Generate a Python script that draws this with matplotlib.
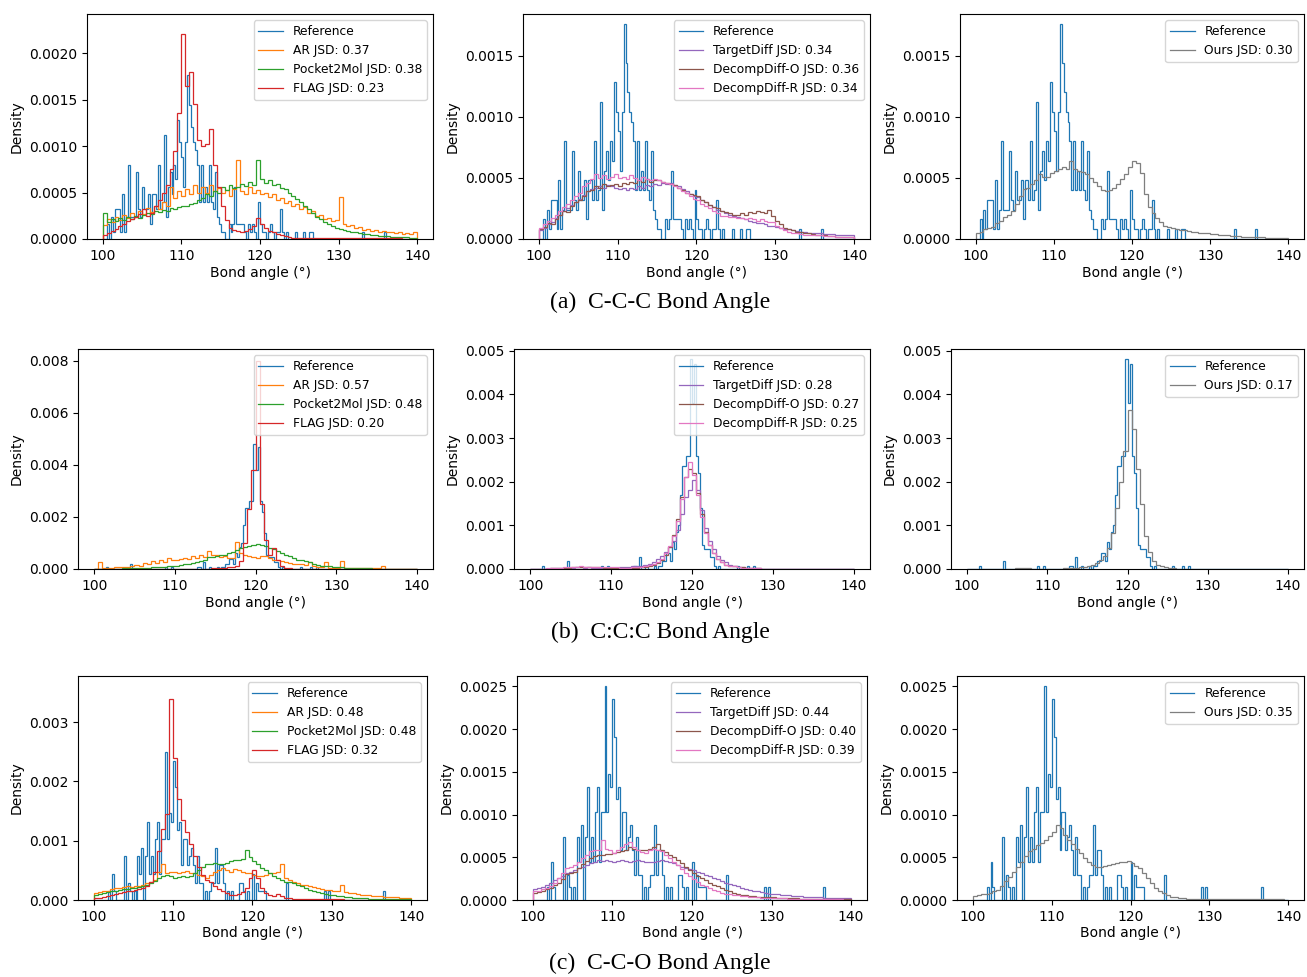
import numpy as np
import matplotlib
matplotlib.use('Agg')
import matplotlib.pyplot as plt
from matplotlib.ticker import FormatStrFormatter

W, H = 1307, 977
fig = plt.figure(figsize=(W/100, H/100), dpi=100)

# bin edges (deg): reference histograms are coarser-sampled, generated ones finer
ang_ref = np.linspace(100, 140, 161)   # 0.25 deg bins
ang_gen = np.linspace(100, 140, 81)    # 0.5 deg bins

# ---------------- reference histograms (counts x unit) ----------------
ref_a_unit = 0.8e-4
ref_a = [0,0,2,0,3,1,4,4,4,1,6,1,3,10,3,3,3,9,4,3,
         7,4,4,6,2,6,6,4,10,4,5,14,3,7,9,6,10,8,16,13,
         11,7,13,22,18,15,13,12,10,5,10,5,7,5,10,5,4,9,3,2,
         1,1,0,0,2,1,2,7,2,2,2,2,1,0,2,1,2,1,0,5,
         2,1,1,0,1,2,1,0,1,1,4,1,0,1,0,0,0,0,1,0,
         0,0,1,0,0,1,1,0,0,0,0,0,0,0,0,0,0,0,0,0,
         0,0,0,0,0,0,0,0,0,0,0,0,1,0,0,0,0,0,0,0,
         0,0,0,1,0,0,0,0,0,0,0,0,0,0,0,0,0,0,0,0]
ref_b_unit = 1e-4
ref_b = [0,0,0,0,0,0,0.8,0,0,0,0,0,0,0,0,0,0,0,1.9,0,
         0,0,0,0,0,0,0,0,0,0,0,0,0,0,0,0.8,0,0,0.8,0,
         0,0,0,0,0,0,0,0,0,0,0,0.8,0.8,0,2.7,0,0,0.8,0,0,
         0,0.8,0,0.8,0.8,1.9,1.9,3.7,3.7,1.9,6.3,4.5,8.5,10,17,23.5,23.5,26,26,48,
         38,47,26,22,14,5.5,4.5,4.5,4.5,2.7,2.7,0.8,0,0.8,0,0,0,0,0,0,
         0,0,0.8,0,0,0,0,0.8,0,0,0.8,0,0,0,0,0,0,0,0,0,
         0,0,0,0,0,0,0,0,0,0,0,0,0,0,0,0,0,0,0,0,
         0,0,0,0,0,0,0,0,0,0,0,0,0,0,0,0,0,0,0,0]
ref_c_unit = 1.47e-4
ref_c = [0,0,0,0,0,0,0,1,0,3,1,0,0,0,0,5,0,2,1,0,
         1,0,5,3,6,0,5,9,3,5,3,7,9,3,7,7,17,7,10,9,
         16,13,8,9,4,7,7,4,5,6,4,2,5,2,2,0,1,0,1,2,
         2,6,2,4,4,2,0,1,0,1,0,0,0,2,2,1,0,1,0,0,
         3,0,2,1,1,1,1,0,0,0,0,0,0,0,0,0,0,2,0,0,
         0,0,0,0,0,0,0,0,0,0,0,0,0,0,0,0,1,0,1,0,
         0,0,0,0,0,0,0,0,0,0,0,0,0,0,0,0,0,0,0,0,
         0,0,0,0,0,0,1,0,0,0,0,0,0,0,0,0,0,0,0,0]

# ---------------- generated-molecule histograms (x1e-4 density) ----------------
# (a) C-C-C
a_ar = [1.5,2.2,1.8,2.4,2.0,2.6,2.3,2.8,2.4,3.0,
        2.7,3.3,2.9,3.6,3.2,4.0,3.6,5.6,4.4,5.2,
        4.6,5.4,4.8,5.8,5.0,5.6,4.9,5.8,5.2,5.5,
        5.0,5.3,4.6,5.4,8.5,5.2,4.8,5.6,4.9,5.3,
        4.8,5.0,4.5,4.8,4.2,4.4,3.9,4.1,3.6,3.8,
        3.2,3.4,2.8,3.0,2.5,2.6,2.2,2.3,1.9,2.0,
        4.5,1.6,1.4,1.5,1.2,1.3,1.0,1.1,0.9,1.0,
        0.8,0.9,0.7,0.8,0.6,0.7,0.5,0.6,0.5,0.7]
a_p2m = [2.8,1.8,2.2,1.9,2.3,2.0,2.4,2.2,2.5,2.3,
         2.6,2.8,2.7,3.0,2.9,3.1,3.0,3.3,3.2,3.4,
         3.5,3.6,3.8,3.9,4.2,4.4,4.8,4.6,5.2,5.0,
         5.6,5.3,5.8,5.5,5.6,5.9,5.7,6.1,5.8,8.5,
         6.4,6.0,6.3,5.8,5.9,5.5,5.4,4.9,4.6,4.3,
         4.0,3.6,3.2,2.8,2.4,2.1,1.8,1.6,1.4,1.2,
         1.1,1.0,0.9,0.8,0.7,0.6,0.5,0.5,0.4,0.4,
         0.35,0.3,0.3,0.25,0.25,0.2,0.2,0.2,0.15,0.15]
a_flag = [0.4,0.6,0.9,1.1,1.4,1.6,1.9,2.2,2.4,2.7,
          3.2,2.5,2.8,3.6,4.2,5.0,5.8,7.5,9.5,13.5,
          22.0,16.5,18.0,14.5,10.6,10.0,10.2,11.8,8.0,5.6,
          3.5,2.0,1.2,1.0,0.9,0.8,0.9,1.1,1.4,2.3,
          1.6,1.2,0.9,0.7,0.5,0.4,0.3,0.2,0.15,0.1,
          0.1,0.1,0.1,0.1,0.1,0.1,0.1,0.1,0.1,0.1,
          0.1,0.1,0.1,0.1,0.1,0.1,0.08,0.08,0.08,0.08,
          0.08,0.08,0.06,0.06,0.06,0.06,0.05,0.05,0.05,0.05]
a_td = [0.7,0.9,1.2,1.4,1.7,2.0,2.3,2.5,2.8,3.0,
        3.3,3.6,3.9,4.1,4.2,4.3,4.2,4.4,4.3,4.2,
        4.1,4.2,4.0,4.2,4.1,4.3,4.2,4.4,4.3,4.5,
        4.4,4.6,4.5,4.6,4.4,4.3,4.1,3.9,3.7,3.5,
        3.4,3.2,3.0,2.8,2.6,2.4,2.3,2.1,2.0,1.9,
        1.8,1.7,1.6,1.5,1.4,1.3,1.3,1.2,1.1,1.1,
        1.0,0.9,0.85,0.8,0.7,0.65,0.6,0.55,0.5,0.5,
        0.45,0.45,0.4,0.4,0.4,0.35,0.35,0.35,0.3,0.3]
a_ddo = [0.8,1.0,1.3,1.2,1.6,2.0,2.3,2.2,2.7,3.0,
         3.2,3.5,3.9,4.0,4.3,4.2,4.5,4.3,4.4,4.5,
         4.3,4.6,4.5,4.7,4.6,4.8,4.7,4.9,4.7,4.8,
         4.8,4.7,4.6,4.5,4.4,4.2,4.0,3.8,3.7,3.6,
         3.5,3.2,3.0,2.8,2.6,2.5,2.3,2.2,2.1,2.0,
         2.0,2.1,2.0,2.2,2.1,2.3,2.2,2.1,2.4,1.9,
         1.5,1.2,0.9,0.8,0.7,0.6,0.55,0.5,0.45,0.4,
         0.35,0.3,0.3,0.25,0.25,0.2,0.2,0.2,0.15,0.15]
a_ddr = [0.9,1.2,1.5,1.7,2.0,2.3,2.6,2.9,3.2,3.5,
         3.8,4.3,4.6,4.9,5.3,5.0,5.2,4.9,5.1,5.3,
         5.0,5.1,4.9,5.2,5.0,4.8,5.1,4.9,4.8,4.9,
         4.8,4.7,4.6,4.5,4.3,4.2,3.9,3.8,3.5,3.3,
         3.2,2.9,2.7,2.5,2.3,2.1,1.9,1.9,1.8,1.8,
         1.7,1.7,1.6,1.7,1.6,1.5,1.6,1.5,1.4,1.4,
         1.1,0.9,0.7,0.6,0.5,0.45,0.4,0.35,0.35,0.3,
         0.3,0.3,0.25,0.25,0.25,0.2,0.2,0.2,0.2,0.15]
a_ours = [0.5,0.6,0.8,0.9,1.0,1.3,1.5,1.8,2.0,2.3,
          2.9,3.5,4.1,4.2,4.5,4.8,5.3,5.1,5.1,5.4,
          5.6,5.7,5.9,5.7,6.4,5.7,5.6,5.5,5.3,5.0,
          4.7,4.3,4.0,3.9,4.0,4.2,4.5,4.9,5.3,5.9,
          6.4,6.2,5.4,3.7,2.6,2.1,1.7,1.4,1.1,1.0,
          0.9,0.8,0.75,0.7,0.65,0.6,0.55,0.5,0.45,0.45,
          0.4,0.38,0.35,0.32,0.3,0.28,0.25,0.22,0.2,0.18,
          0.17,0.15,0.15,0.13,0.12,0.1,0.1,0.08,0.08,0.07]

# (b) C:C:C
b_ar = [0.1,2.5,0.3,0.4,0.5,0.6,0.7,0.6,0.8,1.0,
        1.5,1.2,2.3,1.8,3.0,2.4,3.6,2.8,4.2,3.6,
        3.6,4.0,4.2,3.8,4.9,4.4,5.5,4.8,6.8,5.2,
        5.5,4.6,4.9,4.3,4.2,10.5,6.0,5.2,4.9,4.5,
        4.2,5.0,4.9,4.4,3.6,3.4,3.0,2.6,2.3,2.0,
        2.0,1.8,1.7,2.5,1.0,0.9,0.8,2.5,0.5,0.4,
        0.4,3.0,0.3,0.3,0.3,0.25,0.2,0.2,0.2,0.2,
        0.2,1.2,0.15,0.1,0.1,0.1,0.1,0.05,0.05,0.05]
b_p2m = [0.05,0.05,0.1,0.1,0.1,0.15,0.15,0.2,0.2,0.25,
         0.3,0.35,0.4,0.5,0.6,0.7,0.8,0.9,1.0,1.2,
         1.3,1.5,1.8,2.1,2.4,2.7,3.0,3.6,4.5,4.8,
         5.0,5.3,5.5,6.0,6.5,7.2,8.0,8.5,9.0,9.3,
         9.5,9.3,9.0,8.2,7.5,6.8,6.0,5.5,5.0,4.3,
         3.6,3.3,3.0,2.5,2.0,1.6,1.3,1.1,1.0,0.85,
         0.7,0.6,0.5,0.45,0.35,0.3,0.25,0.22,0.2,0.18,
         0.15,0.15,0.12,0.12,0.1,0.1,0.08,0.08,0.06,0.06]
b_flag = [0.0,0.0,0.05,0.05,0.05,0.05,0.05,0.05,0.05,0.05,
          0.05,0.05,0.05,0.05,0.05,0.05,0.05,0.05,0.05,0.05,
          0.05,0.05,0.05,0.05,0.1,0.1,0.1,0.15,0.15,0.2,
          0.2,0.3,0.4,0.6,0.8,1.0,3.0,10.0,23.0,38.0,
          80.0,25.0,11.0,5.5,8.0,3.5,1.0,0.4,0.2,0.1,
          0.1,0.1,0.05,0.05,0.05,0.05,0.05,0.05,0.05,0.05,
          0.05,0.05,0.05,0.05,0.05,0.05,0.05,0.05,0.05,0.05,
          0.05,0.05,0.05,0.05,0.05,0.05,0.05,0.05,0.05,0.05]
b_td = [0.05,0.05,0.05,0.1,0.1,0.15,0.2,0.2,0.25,0.3,
        0.3,0.35,0.35,0.3,0.35,0.3,0.3,0.3,0.3,0.3,
        0.3,0.3,0.35,0.4,0.5,0.6,0.7,0.8,0.9,1.2,
        1.6,2.2,3.0,3.8,5.0,6.5,9.0,12.5,16.5,18.0,
        20.5,18.0,13.5,9.5,6.5,4.5,3.0,2.0,1.6,1.0,
        0.7,0.5,0.35,0.3,0.2,0.15,0.15,0.1,0.1,0.1,
        0.08,0.08,0.06,0.06,0.05,0.05,0.05,0.05,0.05,0.05,
        0.05,0.05,0.05,0.05,0.05,0.05,0.05,0.05,0.05,0.05]
b_ddo = [0.05,0.05,0.05,0.1,0.1,0.15,0.2,0.25,0.3,0.3,
         0.35,0.4,0.4,0.4,0.4,0.35,0.35,0.35,0.3,0.3,
         0.3,0.3,0.3,0.3,0.3,0.3,0.3,0.35,0.4,0.6,
         0.9,1.3,2.0,3.2,5.0,7.8,11.5,16.5,21.0,23.0,
         22.0,17.5,12.5,8.5,5.6,3.7,2.4,1.6,1.0,0.7,
         0.6,0.45,0.35,0.25,0.2,0.15,0.12,0.1,0.1,0.08,
         0.08,0.06,0.06,0.05,0.05,0.05,0.05,0.05,0.05,0.05,
         0.05,0.05,0.05,0.05,0.05,0.05,0.05,0.05,0.05,0.05]
b_ddr = [0.05,0.05,0.1,0.1,0.15,0.2,0.25,0.3,0.35,0.4,
         0.5,0.55,0.6,0.55,0.5,0.5,0.45,0.45,0.4,0.4,
         0.35,0.35,0.3,0.3,0.3,0.35,0.4,0.5,0.6,0.9,
         1.1,1.6,2.4,3.6,5.2,7.5,11.0,16.0,21.0,24.5,
         21.5,17.0,12.0,8.2,5.5,3.6,2.4,1.6,1.0,0.7,
         0.6,0.4,0.3,0.25,0.2,0.15,0.12,0.1,0.1,0.08,
         0.08,0.06,0.06,0.05,0.05,0.05,0.05,0.05,0.05,0.05,
         0.05,0.05,0.05,0.05,0.05,0.05,0.05,0.05,0.05,0.05]
b_ours = [0.0,0.0,0.0,0.0,0.0,0.0,0.0,0.0,0.0,0.05,
          0.05,0.1,0.2,0.2,0.15,0.15,0.1,0.1,0.1,0.1,
          0.1,0.1,0.1,0.1,0.15,0.15,0.2,0.3,0.4,0.5,
          0.6,0.9,1.3,2.0,3.0,4.8,8.2,14.0,20.0,27.0,
          36.5,32.0,23.0,15.0,7.5,4.0,1.8,1.0,0.6,0.35,
          0.2,0.15,0.1,0.08,0.06,0.05,0.05,0.04,0.04,0.03,
          0.03,0.03,0.03,0.03,0.03,0.03,0.03,0.03,0.03,0.03,
          0.03,0.03,0.03,0.03,0.03,0.03,0.03,0.03,0.03,0.03]

# (c) C-C-O
c_ar = [1.2,1.4,1.5,1.6,1.9,2.0,2.1,2.2,2.3,2.2,
        2.4,2.3,2.6,2.8,3.1,3.4,4.8,6.0,4.5,4.7,
        4.8,4.6,4.8,4.9,4.5,4.6,4.3,4.0,3.7,4.2,
        4.8,5.0,5.4,5.0,4.8,5.2,5.1,4.7,4.5,4.6,
        4.3,4.1,4.0,4.3,4.5,4.6,4.8,6.0,3.7,3.4,
        3.1,2.9,2.6,2.5,2.3,2.2,2.0,1.9,1.7,1.7,
        1.6,1.5,2.6,1.4,1.2,1.1,1.0,0.9,0.8,0.8,
        0.7,0.65,0.6,0.55,0.5,0.5,0.45,0.4,0.35,0.35]
c_p2m = [0.9,1.0,1.2,1.3,1.5,1.6,1.7,1.8,1.9,2.0,
         2.1,2.2,2.3,2.5,2.9,3.2,3.7,4.0,4.3,4.0,
         3.7,3.9,4.0,3.8,4.0,4.5,5.1,5.6,6.0,6.1,
         6.2,6.0,6.0,6.3,6.5,6.7,6.8,7.0,8.5,7.2,
         6.5,6.0,5.4,5.0,4.5,4.1,3.7,3.4,3.1,3.0,
         2.9,2.6,2.3,2.0,1.7,1.5,1.3,1.2,1.0,0.9,
         0.8,0.7,0.6,0.5,0.45,0.4,0.35,0.3,0.28,0.25,
         0.2,0.2,0.18,0.16,0.15,0.14,0.12,0.1,0.1,0.1]
c_flag = [0.3,0.4,0.5,0.6,0.9,1.0,1.2,1.3,1.5,1.6,
          1.7,1.9,2.0,2.4,3.1,4.8,8.2,12.0,14.5,34.0,
          24.0,17.0,13.5,11.5,9.5,7.5,5.5,4.3,3.4,3.0,
          2.4,1.9,1.5,1.2,0.9,0.9,1.0,1.4,2.0,3.7,
          5.1,3.7,2.0,1.2,0.9,0.7,1.0,0.6,0.35,0.3,
          0.2,0.2,0.15,0.15,0.1,0.1,0.1,0.1,0.1,0.1,
          0.1,0.1,0.1,0.08,0.08,0.08,0.08,0.06,0.06,0.06,
          0.06,0.05,0.05,0.05,0.05,0.05,0.05,0.05,0.05,0.05]
c_td = [1.3,1.4,1.5,1.7,2.0,2.3,2.6,2.8,3.1,3.3,
        3.5,3.7,3.9,4.1,4.3,4.5,4.7,4.6,4.7,4.6,
        4.5,4.6,4.7,4.6,4.5,4.6,4.7,4.6,4.5,4.5,
        4.5,4.6,4.7,4.6,4.5,4.3,4.1,3.9,3.7,3.6,
        3.5,3.3,3.1,2.9,2.75,2.6,2.4,2.2,2.0,1.9,
        1.8,1.6,1.4,1.3,1.2,1.1,1.0,0.9,0.8,0.75,
        0.7,0.65,0.6,0.55,0.55,0.5,0.45,0.45,0.4,0.35,
        0.35,0.3,0.3,0.28,0.25,0.25,0.22,0.2,0.2,0.18]
c_ddo = [0.8,0.9,1.1,1.3,1.4,1.7,2.0,2.4,3.0,3.2,
         3.3,3.8,4.2,4.6,4.9,5.2,5.3,5.3,5.4,5.4,
         5.5,5.6,5.7,5.9,6.2,6.0,5.9,5.8,5.9,6.0,
         6.2,6.6,5.9,5.6,5.3,5.0,4.7,4.3,3.9,3.5,
         3.1,2.8,2.6,2.3,2.0,1.8,1.6,1.4,1.2,1.0,
         0.8,0.7,0.6,0.55,0.5,0.45,0.4,0.35,0.3,0.3,
         0.3,0.25,0.25,0.2,0.2,0.2,0.18,0.15,0.15,0.15,
         0.15,0.12,0.12,0.1,0.1,0.1,0.1,0.08,0.08,0.08]
c_ddr = [1.0,1.1,1.3,1.4,1.6,2.0,2.6,3.1,3.7,3.9,
         4.1,4.5,4.9,5.3,5.7,5.8,5.9,7.0,6.0,5.8,
         5.5,5.9,6.2,6.5,6.8,6.2,5.9,5.6,5.5,5.8,
         6.0,5.9,5.7,5.3,4.9,4.5,4.1,3.6,3.1,2.8,
         2.4,2.1,1.8,1.6,1.4,1.2,1.0,0.85,0.7,0.65,
         0.6,0.55,0.5,0.45,0.35,0.3,0.3,0.28,0.25,0.22,
         0.25,0.2,0.2,0.18,0.15,0.15,0.12,0.12,0.1,0.1,
         0.1,0.1,0.08,0.08,0.08,0.06,0.06,0.06,0.05,0.05]
c_ours = [0.5,0.6,0.7,0.7,0.85,1.0,1.2,1.6,2.2,2.7,
          3.3,3.9,4.5,5.1,5.7,6.0,6.4,6.7,7.0,7.5,
          8.0,8.8,8.4,7.6,7.0,6.5,6.0,5.5,4.9,4.4,
          4.1,3.9,3.9,4.0,4.1,4.2,4.3,4.4,4.5,4.6,
          4.3,4.0,3.7,3.1,2.6,2.0,1.4,1.1,0.8,0.6,
          0.4,0.3,0.25,0.2,0.15,0.15,0.15,0.12,0.12,0.1,
          0.1,0.1,0.1,0.1,0.1,0.1,0.1,0.1,0.1,0.1,
          0.1,0.08,0.08,0.08,0.08,0.06,0.06,0.06,0.06,0.05]

jsd = {'a': [0.37,0.38,0.23,0.34,0.36,0.34,0.30],
       'b': [0.57,0.48,0.20,0.28,0.27,0.25,0.17],
       'c': [0.48,0.48,0.32,0.44,0.40,0.39,0.35]}
captions = ['(a)  C-C-C Bond Angle', '(b)  C:C:C Bond Angle', '(c)  C-C-O Bond Angle']

C = {'ref':'#1f77b4','ar':'#ff7f0e','p2m':'#2ca02c','flag':'#d62728',
     'td':'#9467bd','ddo':'#8c564b','ddr':'#e377c2','ours':'#7f7f7f'}
LW = 0.9

def panel(rect, ref, gens, ytop, yticks, fmt):
    l, t, r, b = rect
    ax = fig.add_axes([l/W, 1-b/H, (r-l)/W, (b-t)/H])
    ax.stairs(ref, ang_ref, color=C['ref'], lw=LW, label='Reference')
    for vals, lab, c in gens:
        ax.stairs(np.asarray(vals)*1e-4, ang_gen, color=c, lw=LW, label=lab)
    ax.set_xlim(98, 142); ax.set_ylim(0, ytop)
    ax.set_xticks([100,110,120,130,140]); ax.set_yticks(yticks)
    ax.yaxis.set_major_formatter(FormatStrFormatter(fmt))
    ax.tick_params(labelsize=10)
    ax.set_xlabel('Bond angle (°)', fontsize=10, labelpad=2)
    ax.set_ylabel('Density', fontsize=10)
    ax.legend(loc='upper right', fontsize=8.8)
    return ax

rows = [
    ('a', np.asarray(ref_a)*ref_a_unit, [a_ar,a_p2m,a_flag], [a_td,a_ddo,a_ddr], a_ours,
     [(87,14,433,239),(523,14,870,239),(960,14,1304,239)],
     [(0.00242,[0,0.0005,0.001,0.0015,0.002],'%.4f'),(0.00184,[0,0.0005,0.001,0.0015],'%.4f'),(0.00184,[0,0.0005,0.001,0.0015],'%.4f')]),
    ('b', np.asarray(ref_b)*ref_b_unit, [b_ar,b_p2m,b_flag], [b_td,b_ddo,b_ddr], b_ours,
     [(78,349,433,569),(514,349,870,569),(951,349,1304,569)],
     [(0.00846,[0,0.002,0.004,0.006,0.008],'%.3f'),(0.00504,[0,0.001,0.002,0.003,0.004,0.005],'%.3f'),(0.00504,[0,0.001,0.002,0.003,0.004,0.005],'%.3f')]),
    ('c', np.asarray(ref_c)*ref_c_unit, [c_ar,c_p2m,c_flag], [c_td,c_ddo,c_ddr], c_ours,
     [(78,676,427,900),(517,676,867,900),(957,676,1304,900)],
     [(0.00378,[0,0.001,0.002,0.003],'%.3f'),(0.00262,[0,0.0005,0.001,0.0015,0.002,0.0025],'%.4f'),(0.00262,[0,0.0005,0.001,0.0015,0.002,0.0025],'%.4f')]),
]

for k,(key, ref, left, mid, ours, rects, ys) in enumerate(rows):
    j = jsd[key]
    panel(rects[0], ref, [(left[0],f'AR JSD: {j[0]:.2f}',C['ar']),(left[1],f'Pocket2Mol JSD: {j[1]:.2f}',C['p2m']),
                          (left[2],f'FLAG JSD: {j[2]:.2f}',C['flag'])], *ys[0])
    panel(rects[1], ref, [(mid[0],f'TargetDiff JSD: {j[3]:.2f}',C['td']),(mid[1],f'DecompDiff-O JSD: {j[4]:.2f}',C['ddo']),
                          (mid[2],f'DecompDiff-R JSD: {j[5]:.2f}',C['ddr'])], *ys[1])
    panel(rects[2], ref, [(ours,f'Ours JSD: {j[6]:.2f}',C['ours'])], *ys[2])
    cy = [302, 632, 963][k]
    fig.text(660/W, 1-cy/H, captions[k], ha='center', va='center', fontsize=17, family='Liberation Serif')

fig.savefig('out.png', dpi=100)
